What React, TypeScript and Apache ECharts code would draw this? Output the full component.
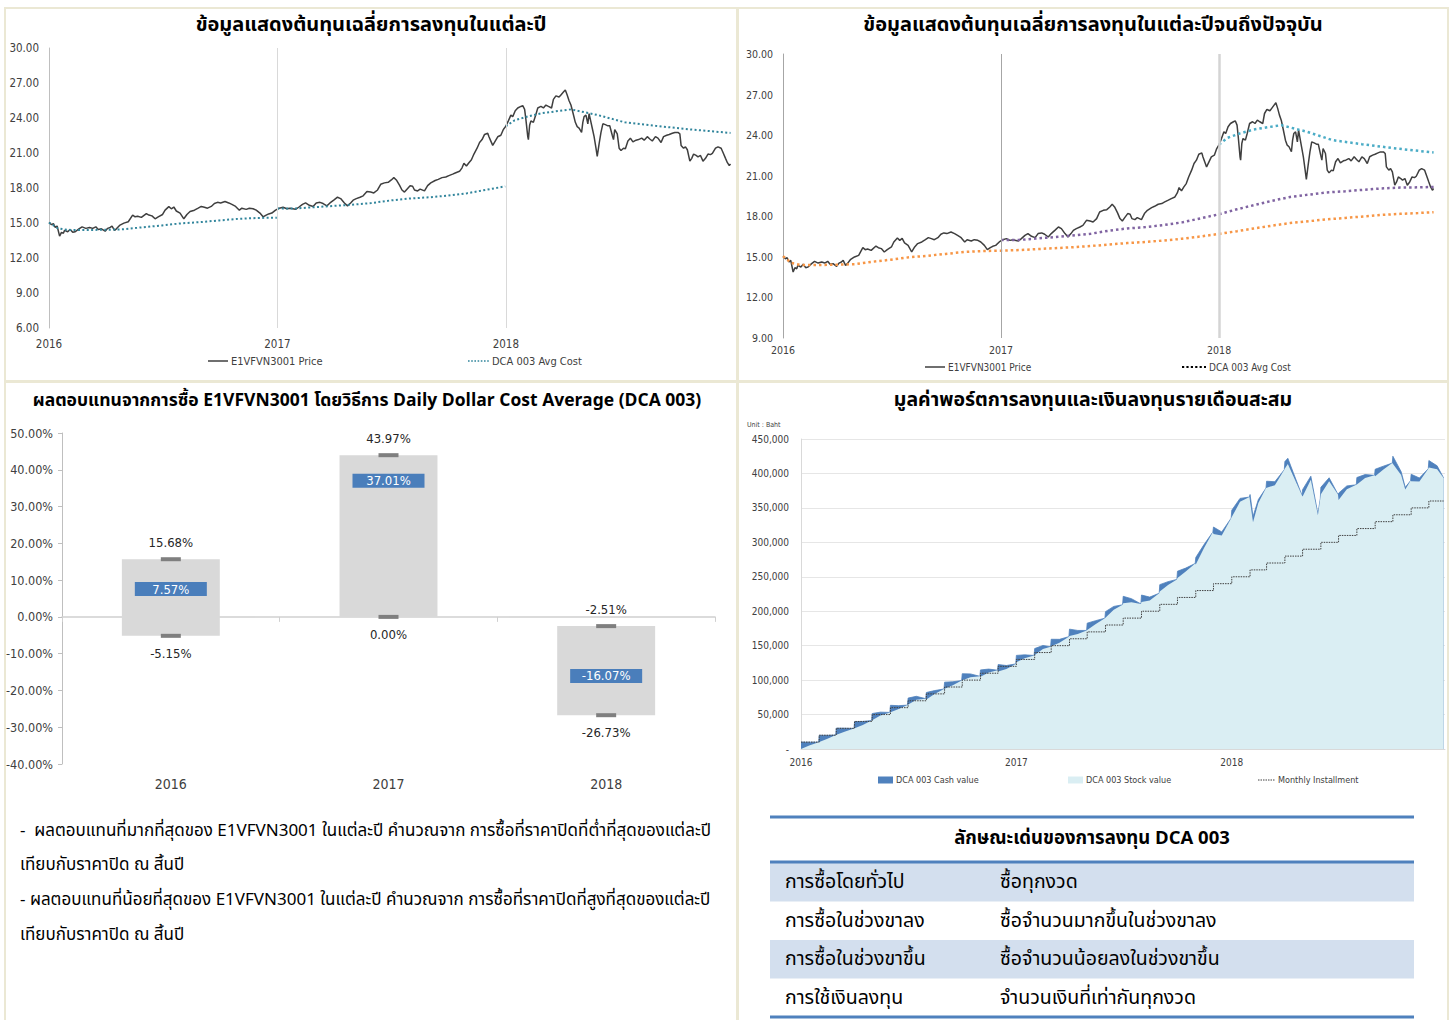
import React, { useEffect, useRef } from 'react';
import * as echarts from 'echarts';

const NUM = "'Liberation Sans Narrow', 'DejaVu Sans Condensed', 'Liberation Sans', 'Noto Sans', sans-serif";
const THAI = "'Noto Sans Thai', 'Noto Sans Thai UI', 'Loma', 'Garuda', 'Tlwg Typo', 'DejaVu Sans', 'Noto Sans', sans-serif";
const LABEL = '#404040';

// ---------------- price of E1VFVN3001 ----------------
const price2016: [string, number][] = [
  ['2016-01-01', 15.04], ['2016-01-05', 14.86], ['2016-01-08', 14.94], ['2016-01-11', 14.62], ['2016-01-14', 14.74], ['2016-01-18', 13.88], ['2016-01-21', 14.2], ['2016-01-24', 14.12], ['2016-01-26', 14.37], ['2016-01-31', 14.25],
  ['2016-02-04', 14.45], ['2016-02-08', 14.2], ['2016-02-12', 14.25], ['2016-02-18', 14.5], ['2016-02-23', 14.67], ['2016-02-29', 14.54],
  ['2016-03-06', 14.62], ['2016-03-11', 14.54], ['2016-03-16', 14.67], ['2016-03-20', 14.45], ['2016-03-25', 14.5], ['2016-03-31', 14.3],
  ['2016-04-04', 14.54], ['2016-04-08', 14.62], ['2016-04-11', 14.74], ['2016-04-15', 14.37], ['2016-04-18', 14.5], ['2016-04-23', 14.79], ['2016-04-30', 14.99],
  ['2016-05-07', 15.11], ['2016-05-14', 15.68], ['2016-05-18', 15.53], ['2016-05-22', 15.58], ['2016-05-28', 15.48],
  ['2016-06-05', 15.8], ['2016-06-09', 15.68], ['2016-06-14', 15.61], ['2016-06-19', 15.36], ['2016-06-24', 15.53],
  ['2016-07-01', 15.73], ['2016-07-05', 16.1], ['2016-07-11', 16.4], ['2016-07-15', 16.22], ['2016-07-19', 16.37], ['2016-07-23', 16.03], ['2016-07-29', 15.85],
  ['2016-08-04', 15.36], ['2016-08-09', 15.73], ['2016-08-14', 15.98], ['2016-08-21', 16.1], ['2016-08-27', 16.27],
  ['2016-09-01', 16.42], ['2016-09-06', 16.35], ['2016-09-11', 16.27], ['2016-09-17', 16.42], ['2016-09-22', 16.67], ['2016-09-27', 16.77],
  ['2016-10-02', 16.72], ['2016-10-09', 16.84], ['2016-10-15', 16.72], ['2016-10-20', 16.59], ['2016-10-26', 16.42],
  ['2016-11-01', 16.1], ['2016-11-05', 16.27], ['2016-11-12', 16.17], ['2016-11-17', 16.27], ['2016-11-23', 16.22], ['2016-11-28', 16.1],
  ['2016-12-04', 15.85], ['2016-12-09', 15.53], ['2016-12-14', 15.68], ['2016-12-18', 15.78], ['2016-12-23', 15.85], ['2016-12-29', 16.1],
];
const price2017: [string, number][] = [
  ['2017-01-04', 16.27], ['2017-01-10', 16.35], ['2017-01-16', 16.22], ['2017-01-21', 16.27], ['2017-01-30', 16.17],
  ['2017-02-04', 16.35], ['2017-02-10', 16.59], ['2017-02-15', 16.72], ['2017-02-21', 16.52], ['2017-02-27', 16.42],
  ['2017-03-04', 16.72], ['2017-03-10', 16.77], ['2017-03-15', 16.67], ['2017-03-21', 16.47], ['2017-03-26', 16.72],
  ['2017-04-01', 16.96], ['2017-04-07', 17.21], ['2017-04-12', 17.09], ['2017-04-18', 16.72], ['2017-04-23', 16.47], ['2017-04-28', 16.72],
  ['2017-05-02', 16.96], ['2017-05-07', 17.09], ['2017-05-13', 17.21], ['2017-05-18', 17.33], ['2017-05-24', 17.7], ['2017-05-30', 17.65],
  ['2017-06-04', 17.58], ['2017-06-10', 17.83], ['2017-06-15', 18.32], ['2017-06-21', 18.44], ['2017-06-27', 18.49],
  ['2017-07-02', 18.69], ['2017-07-06', 18.89], ['2017-07-10', 18.69], ['2017-07-15', 18.25], ['2017-07-19', 17.83], ['2017-07-23', 17.65], ['2017-07-27', 17.9],
  ['2017-08-01', 18.2], ['2017-08-05', 18.15], ['2017-08-08', 17.83], ['2017-08-13', 17.75], ['2017-08-17', 17.9], ['2017-08-24', 17.75], ['2017-08-29', 18.2],
  ['2017-09-03', 18.44], ['2017-09-10', 18.64], ['2017-09-15', 18.74], ['2017-09-21', 18.89], ['2017-09-27', 18.94],
  ['2017-10-02', 19.06], ['2017-10-08', 19.19], ['2017-10-13', 19.31], ['2017-10-19', 19.43], ['2017-10-23', 19.73], ['2017-10-26', 20.12], ['2017-10-30', 19.88],
  ['2017-11-03', 20.17], ['2017-11-07', 20.42], ['2017-11-11', 20.91], ['2017-11-16', 21.41], ['2017-11-20', 21.9], ['2017-11-24', 22.15], ['2017-11-28', 22.59],
  ['2017-12-03', 22.69], ['2017-12-05', 22.39], ['2017-12-08', 22.02], ['2017-12-11', 21.65], ['2017-12-15', 22.02], ['2017-12-19', 22.39], ['2017-12-24', 22.52], ['2017-12-28', 23.01],
];
const price2018: [string, number][] = [
  ['2018-01-01', 23.3], ['2018-01-05', 23.75], ['2018-01-09', 24.25], ['2018-01-12', 24.12], ['2018-01-16', 24.62], ['2018-01-20', 24.86], ['2018-01-25', 24.99], ['2018-01-28', 25.06], ['2018-01-31', 24.74],
  ['2018-02-02', 23.88], ['2018-02-05', 22.4], ['2018-02-06', 22.15], ['2018-02-08', 23.38], ['2018-02-10', 23.75], ['2018-02-14', 23.63], ['2018-02-17', 24.12], ['2018-02-21', 24.86], ['2018-02-26', 24.99],
  ['2018-03-02', 24.86], ['2018-03-06', 25.11], ['2018-03-10', 24.99], ['2018-03-15', 24.86], ['2018-03-18', 25.6], ['2018-03-22', 25.9], ['2018-03-27', 25.8], ['2018-03-30', 25.98],
  ['2018-04-03', 26.22], ['2018-04-06', 26.4], ['2018-04-09', 25.98], ['2018-04-12', 25.48], ['2018-04-15', 25.11], ['2018-04-18', 24.49], ['2018-04-22', 23.63], ['2018-04-25', 23.26], ['2018-04-28', 23.14],
  ['2018-05-02', 22.77], ['2018-05-04', 23.63], ['2018-05-06', 24.12], ['2018-05-09', 24.25], ['2018-05-12', 23.5], ['2018-05-14', 24.37], ['2018-05-16', 23.88], ['2018-05-19', 23.14], ['2018-05-22', 22.4], ['2018-05-25', 21.41], ['2018-05-27', 20.72], ['2018-05-30', 21.78],
  ['2018-06-02', 22.77], ['2018-06-05', 23.5], ['2018-06-09', 23.43], ['2018-06-13', 23.33], ['2018-06-16', 23.33], ['2018-06-20', 22.52], ['2018-06-22', 22.15], ['2018-06-24', 23.01], ['2018-06-28', 22.64],
  ['2018-07-01', 21.41], ['2018-07-04', 21.21], ['2018-07-08', 21.41], ['2018-07-11', 21.36], ['2018-07-15', 22.03], ['2018-07-19', 22.27], ['2018-07-23', 21.95], ['2018-07-28', 22.1],
  ['2018-08-01', 22.15], ['2018-08-06', 22.27], ['2018-08-10', 22.1], ['2018-08-15', 22.4], ['2018-08-19', 22.2], ['2018-08-23', 22.03], ['2018-08-28', 22.4],
  ['2018-09-01', 22.27], ['2018-09-06', 21.9], ['2018-09-10', 22.4], ['2018-09-15', 22.52], ['2018-09-19', 22.59], ['2018-09-24', 22.69], ['2018-09-28', 22.76],
  ['2018-10-03', 22.76], ['2018-10-06', 22.64], ['2018-10-08', 21.65], ['2018-10-12', 21.41], ['2018-10-15', 21.53], ['2018-10-18', 21.28], ['2018-10-22', 20.3], ['2018-10-25', 20.54], ['2018-10-28', 20.91],
  ['2018-11-01', 20.79], ['2018-11-04', 20.67], ['2018-11-08', 20.79], ['2018-11-12', 20.3], ['2018-11-16', 20.54], ['2018-11-20', 20.91], ['2018-11-24', 20.86], ['2018-11-27', 20.96],
  ['2018-12-02', 21.41], ['2018-12-06', 21.53], ['2018-12-11', 21.41], ['2018-12-14', 21.04], ['2018-12-18', 20.54], ['2018-12-21', 20.17], ['2018-12-24', 19.93], ['2018-12-26', 20.05],
];

// ---------------- DCA average cost, by start year ----------------
const avgCostFrom2016: [string, number][] = [
  ['2016-01-01', 15.04], ['2016-01-08', 14.8], ['2016-01-15', 14.55], ['2016-01-31', 14.4], ['2016-02-29', 14.4], ['2016-03-31', 14.42], ['2016-04-30', 14.46],
  ['2016-05-31', 14.64], ['2016-06-30', 14.79], ['2016-07-31', 14.97], ['2016-08-31', 15.08], ['2016-09-30', 15.22], ['2016-10-31', 15.36], ['2016-11-30', 15.43], ['2016-12-31', 15.46],
  ['2017-01-31', 15.5], ['2017-02-28', 15.57], ['2017-03-31', 15.64], ['2017-04-30', 15.71], ['2017-05-31', 15.8], ['2017-06-30', 15.91], ['2017-07-31', 16.02],
  ['2017-08-31', 16.1], ['2017-09-30', 16.21], ['2017-10-31', 16.34], ['2017-11-30', 16.5], ['2017-12-31', 16.69],
  ['2018-01-31', 16.9], ['2018-02-28', 17.1], ['2018-03-31', 17.31], ['2018-04-30', 17.5], ['2018-05-31', 17.64], ['2018-06-30', 17.77], ['2018-07-31', 17.88],
  ['2018-08-31', 17.99], ['2018-09-30', 18.1], ['2018-10-31', 18.18], ['2018-11-30', 18.24], ['2018-12-26', 18.3],
];
const avgCostFrom2017: [string, number][] = [
  ['2017-01-01', 16.24], ['2017-01-31', 16.25], ['2017-02-28', 16.35], ['2017-03-31', 16.46], ['2017-04-30', 16.57], ['2017-05-31', 16.71], ['2017-06-30', 16.93],
  ['2017-07-31', 17.1], ['2017-08-31', 17.2], ['2017-09-30', 17.35], ['2017-10-31', 17.55], ['2017-11-30', 17.84], ['2017-12-31', 18.14],
  ['2018-01-31', 18.52], ['2018-02-28', 18.82], ['2018-03-31', 19.15], ['2018-04-30', 19.43], ['2018-05-31', 19.6], ['2018-06-30', 19.76], ['2018-07-31', 19.85],
  ['2018-08-31', 19.96], ['2018-09-30', 20.06], ['2018-10-31', 20.12], ['2018-11-30', 20.14], ['2018-12-26', 20.17],
];
const avgCostFrom2018: [string, number][] = [
  ['2018-01-01', 23.3], ['2018-01-15', 23.8], ['2018-02-05', 24.13], ['2018-02-28', 24.42], ['2018-04-15', 24.74], ['2018-05-28', 24.25],
  ['2018-07-10', 23.63], ['2018-08-28', 23.33], ['2018-10-25', 23.01], ['2018-12-26', 22.72],
];

// ---------------- yearly return (DCA 003) ----------------
const returnYears = ['2016', '2017', '2018'];
const maxReturn = [15.68, 43.97, -2.51];
const minReturn = [-5.15, 0.0, -26.73];
const dcaReturn = [7.57, 37.01, -16.07];

// ---------------- portfolio value: [date, stock value, cash value] ----------------
const portfolioPoints: [string, number, number][] = [
  ['2016-01-01', 0, 10000], ['2016-01-15', 4900, 5000], ['2016-01-31', 9900, 0],
  ['2016-02-01', 9900, 10000], ['2016-02-15', 14800, 5000], ['2016-02-29', 20300, 0],
  ['2016-03-01', 20300, 10000], ['2016-03-15', 25200, 5000], ['2016-03-31', 29800, 0],
  ['2016-04-01', 29800, 10000], ['2016-04-15', 35000, 5000], ['2016-04-30', 41300, 0],
  ['2016-05-01', 41500, 10000], ['2016-05-15', 48500, 5000], ['2016-05-31', 53100, 0],
  ['2016-06-01', 53400, 10000], ['2016-06-15', 57900, 5000], ['2016-06-30', 63700, 0],
  ['2016-07-01', 63900, 10000], ['2016-07-15', 71500, 5000], ['2016-07-31', 73000, 0],
  ['2016-08-01', 72000, 10000], ['2016-08-15', 79800, 5000], ['2016-08-31', 87100, 0],
  ['2016-09-01', 87000, 10000], ['2016-09-15', 92600, 5000], ['2016-09-30', 99300, 0],
  ['2016-10-01', 99300, 10000], ['2016-10-15', 104000, 5000], ['2016-10-31', 105500, 0],
  ['2016-11-01', 104800, 10000], ['2016-11-15', 111000, 5000], ['2016-11-30', 114400, 0],
  ['2016-12-01', 112600, 10000], ['2016-12-15', 116200, 5000], ['2016-12-31', 123500, 0],
  ['2017-01-01', 125900, 10000], ['2017-01-15', 131700, 5000], ['2017-01-31', 135800, 0],
  ['2017-02-01', 135800, 10000], ['2017-02-15', 145300, 5000], ['2017-02-28', 148400, 0],
  ['2017-03-01', 149300, 10000], ['2017-03-15', 154200, 5000], ['2017-03-31', 163100, 0],
  ['2017-04-01', 164000, 10000], ['2017-04-15', 167100, 5000], ['2017-04-30', 172100, 0],
  ['2017-05-01', 172700, 10000], ['2017-05-15', 181200, 5000], ['2017-05-31', 189900, 0],
  ['2017-06-01', 189400, 10000], ['2017-06-15', 202000, 5000], ['2017-06-30', 209300, 0],
  ['2017-07-01', 211600, 10000], ['2017-07-15', 213200, 5000], ['2017-07-31', 210600, 0],
  ['2017-08-01', 213500, 10000], ['2017-08-15', 215500, 5000], ['2017-08-31', 226100, 0],
  ['2017-09-01', 228600, 10000], ['2017-09-15', 237900, 5000], ['2017-09-30', 246200, 0],
  ['2017-10-01', 248100, 10000], ['2017-10-15', 257600, 5000], ['2017-10-31', 269300, 0],
  ['2017-11-01', 268000, 10000], ['2017-11-15', 291800, 5000], ['2017-11-30', 315000, 0],
  ['2017-12-01', 312200, 10000], ['2017-12-15', 310100, 5000], ['2017-12-31', 335100, 0],
  ['2018-01-01', 336600, 10000], ['2018-01-15', 358800, 5000], ['2018-01-31', 365700, 0],
  ['2018-02-01', 359400, 10000], ['2018-02-06', 329200, 8200], ['2018-02-15', 357000, 5000], ['2018-02-28', 378700, 0],
  ['2018-03-01', 378700, 10000], ['2018-03-15', 383000, 5000], ['2018-03-31', 405300, 0],
  ['2018-04-01', 407200, 10000], ['2018-04-06', 413700, 8300], ['2018-04-15', 396800, 5000], ['2018-04-30', 368100, 0],
  ['2018-05-01', 366500, 10000], ['2018-05-15', 391000, 5000], ['2018-05-27', 339200, 1600], ['2018-05-31', 363400, 0],
  ['2018-06-01', 369900, 10000], ['2018-06-15', 388700, 5000], ['2018-06-30', 369600, 0],
  ['2018-07-01', 361400, 10000], ['2018-07-15', 376900, 5000], ['2018-07-31', 383500, 0],
  ['2018-08-01', 384100, 10000], ['2018-08-15', 393400, 5000], ['2018-08-31', 397200, 0],
  ['2018-09-01', 396100, 10000], ['2018-09-15', 405600, 5000], ['2018-09-30', 415000, 0],
  ['2018-10-01', 415000, 10000], ['2018-10-15', 397600, 5000], ['2018-10-22', 376600, 3200], ['2018-10-31', 389400, 0],
  ['2018-11-01', 388800, 10000], ['2018-11-15', 388400, 5000], ['2018-11-30', 406800, 0],
  ['2018-12-01', 408700, 10000], ['2018-12-15', 406100, 5000], ['2018-12-26', 393400, 0],
];

// monthly installment (accumulated), one value per month from Jan 2016
const installmentValues = [
  10000, 20000, 30000, 40000, 50000, 60000, 70000, 80000, 90000, 100000, 110000, 120000,
  130000, 140000, 150000, 160000, 170000, 180000, 190000, 200000, 210000, 220000, 230000, 240000,
  250000, 260000, 270000, 280000, 290000, 300000, 310000, 320000, 330000, 340000, 350000, 360000,
];
const installmentEnd = '2018-12-26';

const yearLines = [2017, 2018];

// ---------------- text ----------------
const titles = {
  tl: 'ข้อมูลแสดงต้นทุนเฉลี่ยการลงทุนในแต่ละปี',
  tr: 'ข้อมูลแสดงต้นทุนเฉลี่ยการลงทุนในแต่ละปีจนถึงปัจจุบัน',
  bl: 'ผลตอบแทนจากการซื้อ E1VFVN3001 โดยวิธีการ Daily Dollar Cost Average (DCA 003)',
  br: 'มูลค่าพอร์ตการลงทุนและเงินลงทุนรายเดือนสะสม',
};
const noteLines = [
  '-  ผลตอบแทนที่มากที่สุดของ E1VFVN3001 ในแต่ละปี คำนวณจาก การซื้อที่ราคาปิดที่ต่ำที่สุดของแต่ละปี',
  'เทียบกับราคาปิด ณ สิ้นปี',
  '- ผลตอบแทนที่น้อยที่สุดของ E1VFVN3001 ในแต่ละปี คำนวณจาก การซื้อที่ราคาปิดที่สูงที่สุดของแต่ละปี',
  'เทียบกับราคาปิด ณ สิ้นปี',
];
const tableHeader = 'ลักษณะเด่นของการลงทุน DCA 003';
const tableLabels = ['การซื้อโดยทั่วไป', 'การซื้อในช่วงขาลง', 'การซื้อในช่วงขาขึ้น', 'การใช้เงินลงทุน'];
const tableValues = ['ซื้อทุกงวด', 'ซื้อจำนวนมากขึ้นในช่วงขาลง', 'ซื้อจำนวนน้อยลงในช่วงขาขึ้น', 'จำนวนเงินที่เท่ากันทุกงวด'];

// ---------------- helpers ----------------
const toYear = (d: string) => {
  const [y, m, dd] = d.split('-').map(Number);
  const s = Date.UTC(y, 0, 1);
  const e = Date.UTC(y + 1, 0, 1);
  return y + (Date.UTC(y, m - 1, dd) - s) / (e - s);
};
const pts = (a: [string, number][]) => a.map(([d, v]) => [toYear(d), v]);
const inYear = (a: [string, number][], y: string) => a.filter(([d]) => d.startsWith(y));

function yearAxis(gridIndex: number, max: number, fontSize: number, margin: number, line?: string) {
  return {
    type: 'value', gridIndex, min: 2016, max, interval: 1,
    axisLine: { show: !!line, lineStyle: { color: line || '#ccc', width: 1 } },
    axisTick: { show: false },
    splitLine: { show: false },
    axisLabel: {
      fontSize, margin, color: LABEL, fontFamily: NUM, showMaxLabel: false,
      formatter: (v: number) => (Number.isInteger(v) ? String(v) : ''),
    },
  };
}
function priceYAxis(gridIndex: number, min: number, fontSize: number, axisColor: string) {
  return {
    type: 'value', gridIndex, min, max: 30, interval: 3,
    axisLine: { show: true, lineStyle: { color: axisColor, width: 1 } },
    axisTick: { show: false },
    splitLine: { show: false },
    axisLabel: { fontSize, margin: 10, color: LABEL, fontFamily: NUM, formatter: (v: number) => v.toFixed(2) },
  };
}
function dotted(name: string, data: any[], xi: number, color: string, width: number) {
  return {
    name, type: 'line', xAxisIndex: xi, yAxisIndex: xi, data, showSymbol: false, symbol: 'none',
    lineStyle: { color, width, type: [width, width * 1.2] }, z: 4, silent: true,
  };
}

function buildOption() {
  const priceAll = [...price2016, ...price2017, ...price2018];
  const cats = returnYears;

  const legendLine = (x: number, y: number, w: number, color: string, lw: number, dash: number[] | null, text: string, fs: number) => [
    { type: 'line', shape: { x1: x, y1: y, x2: x + w, y2: y }, style: { stroke: color, lineWidth: lw, lineDash: dash || undefined } },
    { type: 'text', x: x + w + 3, y, style: { text, fill: LABEL, font: `${fs}px ${NUM}`, textAlign: 'left', textVerticalAlign: 'middle' } },
  ];
  const legendBox = (x: number, y: number, color: string, text: string) => [
    { type: 'rect', shape: { x, y: y - 3.5, width: 15, height: 7 }, style: { fill: color } },
    { type: 'text', x: x + 18, y, style: { text, fill: LABEL, font: `9px ${NUM}`, textAlign: 'left', textVerticalAlign: 'middle' } },
  ];
  const frame = (x: number, y: number, w: number, h: number) => ({
    type: 'rect', shape: { x, y, width: w, height: h }, style: { fill: 'none', stroke: '#ebe8d4', lineWidth: 2 }, z: -10,
  });
  const title = (x: number, y: number, text: string, size: number) => ({
    type: 'text', x, y, style: { text, fill: '#000', font: `bold ${size}px ${THAI}`, textAlign: 'center', textVerticalAlign: 'middle' },
  });

  const tableEls: any[] = [];
  const tx0 = 770, tx1 = 1414, rowH = 38.5, row0 = 863;
  tableLabels.forEach((lab, i) => {
    const y0 = row0 + i * rowH;
    if (i % 2 === 0) tableEls.push({ type: 'rect', shape: { x: tx0, y: y0, width: tx1 - tx0, height: rowH }, style: { fill: '#d3dfee' } });
    tableEls.push({ type: 'text', x: 785, y: y0 + rowH / 2, style: { text: lab, fill: '#000', font: `19.5px ${THAI}`, textAlign: 'left', textVerticalAlign: 'middle' } });
    tableEls.push({ type: 'text', x: 1000, y: y0 + rowH / 2, style: { text: tableValues[i], fill: '#000', font: `19.5px ${THAI}`, textAlign: 'left', textVerticalAlign: 'middle' } });
  });
  const rule = (y: number) => ({ type: 'line', shape: { x1: tx0, y1: y, x2: tx1, y2: y }, style: { stroke: '#4f81bd', lineWidth: 3 }, z: 5 });
  tableEls.push(rule(817), rule(862), rule(1017));
  tableEls.push({ type: 'text', x: (tx0 + tx1) / 2, y: 838, style: { text: tableHeader, fill: '#000', font: `bold 18.5px ${THAI}`, textAlign: 'center', textVerticalAlign: 'middle' } });

  const noteY = [831, 865, 900, 935];
  const noteEls = noteLines.map((t, i) => ({
    type: 'text', x: 20, y: noteY[i], style: { text: t, fill: '#000', font: `17px ${THAI}`, textAlign: 'left', textVerticalAlign: 'middle' },
  }));

  const pvX = portfolioPoints.map((p) => toYear(p[0]));
  const stockData = portfolioPoints.map((p, i) => [pvX[i], p[1]]);
  const totalData = portfolioPoints.map((p, i) => [pvX[i], p[1] + p[2]]);
  const instData = installmentValues.map((v, i) => {
    const y = 2016 + Math.floor(i / 12);
    const m = String((i % 12) + 1).padStart(2, '0');
    return [toYear(`${y}-${m}-01`), v];
  });
  instData.push([toYear(installmentEnd), installmentValues[installmentValues.length - 1]]);

  const vLines = (styles: any[]) => ({
    silent: true, symbol: ['none', 'none'], label: { show: false },
    data: yearLines.map((y, i) => ({ xAxis: y, lineStyle: styles[i] })),
  });

  return {
    animation: false,
    backgroundColor: '#ffffff',
    textStyle: { fontFamily: NUM },
    grid: [
      { left: 49, top: 48, width: 683, height: 280, outerBoundsMode: 'none' },
      { left: 783, top: 54, width: 652, height: 284, outerBoundsMode: 'none' },
      { left: 62, top: 433, width: 653, height: 331, outerBoundsMode: 'none' },
      { left: 801, top: 439, width: 644, height: 310, outerBoundsMode: 'none' },
    ],
    xAxis: [
      yearAxis(0, 2018.99, 11.5, 10),
      yearAxis(1, 2018.99, 10.5, 6),
      {
        type: 'category', gridIndex: 2, data: cats, position: 'bottom',
        axisLine: { show: false, onZero: false }, axisTick: { show: false },
        axisLabel: { fontSize: 14, margin: 13, color: LABEL, fontFamily: NUM },
      },
      {
        type: 'category', gridIndex: 2, data: cats, position: 'bottom',
        axisLine: { show: true, onZero: true, lineStyle: { color: '#d0d0d0', width: 1.5 } },
        axisTick: { show: true, length: 5, lineStyle: { color: '#d0d0d0' } },
        axisLabel: { show: false },
      },
      yearAxis(3, 2018.99, 10, 8, '#d9d9d9'),
    ],
    yAxis: [
      priceYAxis(0, 6, 11.5, '#bfbfbf'),
      priceYAxis(1, 9, 10.5, '#a6a6a6'),
      {
        type: 'value', gridIndex: 2, min: -40, max: 50, interval: 10,
        axisLine: { show: true, lineStyle: { color: '#bfbfbf' } },
        axisTick: { show: true, length: 4, lineStyle: { color: '#bfbfbf' } },
        splitLine: { show: false },
        axisLabel: { fontSize: 12.5, margin: 9, color: LABEL, fontFamily: NUM, formatter: (v: number) => v.toFixed(2) + '%' },
      },
      {
        type: 'value', gridIndex: 3, min: 0, max: 450000, interval: 50000,
        axisLine: { show: true, lineStyle: { color: '#d9d9d9' } },
        axisTick: { show: false },
        splitLine: { show: true, lineStyle: { color: '#e6e6e6' } },
        axisLabel: { fontSize: 10, margin: 12, color: LABEL, fontFamily: NUM, formatter: (v: number) => (v === 0 ? '-' : v.toLocaleString('en-US')) },
      },
    ],
    series: [
      // top-left
      {
        name: 'E1VFVN3001 Price', type: 'line', xAxisIndex: 0, yAxisIndex: 0, data: pts(priceAll), showSymbol: false, symbol: 'none',
        lineStyle: { color: '#3f3f3f', width: 1.5 }, z: 3,
        markLine: vLines([{ color: '#d9d9d9', width: 1, type: 'solid' }, { color: '#d9d9d9', width: 1, type: 'solid' }]),
      },
      dotted('DCA 003 Avg Cost', pts(inYear(avgCostFrom2016, '2016')), 0, '#31859c', 2),
      dotted('DCA 003 Avg Cost', pts(inYear(avgCostFrom2017, '2017')), 0, '#31859c', 2),
      dotted('DCA 003 Avg Cost', pts(avgCostFrom2018), 0, '#31859c', 2),
      // top-right
      {
        name: 'E1VFVN3001 Price', type: 'line', xAxisIndex: 1, yAxisIndex: 1, data: pts(priceAll), showSymbol: false, symbol: 'none',
        lineStyle: { color: '#3f3f3f', width: 1.5 }, z: 3,
        markLine: vLines([{ color: '#a6a6a6', width: 1, type: 'solid' }, { color: '#d4d4d4', width: 2.5, type: 'solid' }]),
      },
      dotted('DCA 003 Avg Cost', pts(avgCostFrom2016), 1, '#f79646', 2.5),
      dotted('DCA 003 Avg Cost', pts(avgCostFrom2017), 1, '#8064a2', 2.5),
      dotted('DCA 003 Avg Cost', pts(avgCostFrom2018), 1, '#4bacc6', 2.5),
      // bottom-left: min..max range box
      {
        name: 'range', type: 'custom', xAxisIndex: 2, yAxisIndex: 2, silent: true,
        data: cats.map((_, i) => [i, minReturn[i], maxReturn[i]]),
        encode: { x: 0, y: [1, 2] },
        renderItem: (params: any, api: any) => {
          const i = api.value(0);
          const top = api.coord([i, api.value(2)]);
          const bot = api.coord([i, api.value(1)]);
          const w = api.size([1, 0])[0] * 0.45;
          return { type: 'rect', shape: { x: top[0] - w / 2, y: top[1], width: w, height: bot[1] - top[1] }, style: { fill: '#d9d9d9' } };
        },
        z: 2,
      },
      {
        name: 'max', type: 'scatter', xAxisIndex: 2, yAxisIndex: 2, data: maxReturn, symbol: 'rect', symbolSize: [20, 4],
        itemStyle: { color: '#7f7f7f', opacity: 1 }, silent: true, z: 3,
        label: { show: true, position: 'top', distance: 8, color: '#262626', fontSize: 13, fontFamily: NUM, formatter: (p: any) => p.value.toFixed(2) + '%' },
      },
      {
        name: 'min', type: 'scatter', xAxisIndex: 2, yAxisIndex: 2, data: minReturn, symbol: 'rect', symbolSize: [20, 4],
        itemStyle: { color: '#7f7f7f', opacity: 1 }, silent: true, z: 3,
        label: { show: true, position: 'bottom', distance: 9, color: '#262626', fontSize: 13, fontFamily: NUM, formatter: (p: any) => p.value.toFixed(2) + '%' },
      },
      {
        name: 'dca', type: 'scatter', xAxisIndex: 2, yAxisIndex: 2, data: dcaReturn, symbol: 'rect', symbolSize: [72, 14],
        itemStyle: { color: '#4a7ebb', opacity: 1 }, silent: true, z: 4,
        label: { show: true, position: 'inside', color: '#ffffff', fontSize: 13, fontFamily: NUM, formatter: (p: any) => p.value.toFixed(2) + '%' },
      },
      // bottom-right
      {
        name: 'DCA 003 Cash value', type: 'line', xAxisIndex: 4, yAxisIndex: 3, data: totalData, showSymbol: false, symbol: 'none',
        lineStyle: { color: '#4f81bd', width: 0.8 }, areaStyle: { color: '#4f81bd', opacity: 1 }, itemStyle: { color: '#4f81bd' }, z: 2, silent: true,
      },
      {
        name: 'DCA 003 Stock value', type: 'line', xAxisIndex: 4, yAxisIndex: 3, data: stockData, showSymbol: false, symbol: 'none',
        lineStyle: { width: 0 }, areaStyle: { color: '#daeef3', opacity: 1 }, itemStyle: { color: '#daeef3' }, z: 3, silent: true,
      },
      {
        name: 'Monthly Installment', type: 'line', xAxisIndex: 4, yAxisIndex: 3, data: instData, step: 'end', showSymbol: false, symbol: 'none',
        lineStyle: { color: '#404040', width: 1, type: [1.5, 1] }, z: 4, silent: true,
      },
    ],
    graphic: {
      elements: [
        frame(5, 8, 732, 373),
        frame(738, 8, 710, 373),
        frame(5, 382, 732, 640),
        frame(738, 382, 710, 640),
        title(371, 25, titles.tl, 20),
        title(1093, 25, titles.tr, 20),
        title(367, 400, titles.bl, 17.5),
        title(1093, 400, titles.br, 19.5),
        ...legendLine(208, 361, 20, '#3f3f3f', 1.5, null, 'E1VFVN3001 Price', 11),
        ...legendLine(468, 361, 21, '#31859c', 1.6, [1.6, 1.6], 'DCA 003 Avg Cost', 11),
        ...legendLine(925, 367, 20, '#3f3f3f', 1.5, null, 'E1VFVN3001 Price', 10),
        ...legendLine(1182, 367, 24, '#000000', 2.2, [2.2, 2.2], 'DCA 003 Avg Cost', 10),
        ...legendBox(878, 780, '#4f81bd', 'DCA 003 Cash value'),
        ...legendBox(1068, 780, '#daeef3', 'DCA 003 Stock value'),
        ...legendLine(1258, 780, 17, '#404040', 1, [1.5, 1], 'Monthly Installment', 9),
        { type: 'text', x: 747, y: 425, style: { text: 'Unit : Baht', fill: LABEL, font: `7px ${NUM}`, textAlign: 'left', textVerticalAlign: 'middle' } },
        ...noteEls,
        ...tableEls,
      ],
    },
  };
}

export default function App() {
  const ref = useRef<HTMLDivElement>(null);
  useEffect(() => {
    if (!ref.current) return;
    const chart = echarts.init(ref.current, undefined, { renderer: 'svg' });
    chart.setOption(buildOption() as any);
    return () => chart.dispose();
  }, []);
  return (
    <div
      ref={ref}
      style={{ position: 'absolute', left: 0, top: 0, width: 1452, height: 1020, background: '#ffffff' }}
    />
  );
}
